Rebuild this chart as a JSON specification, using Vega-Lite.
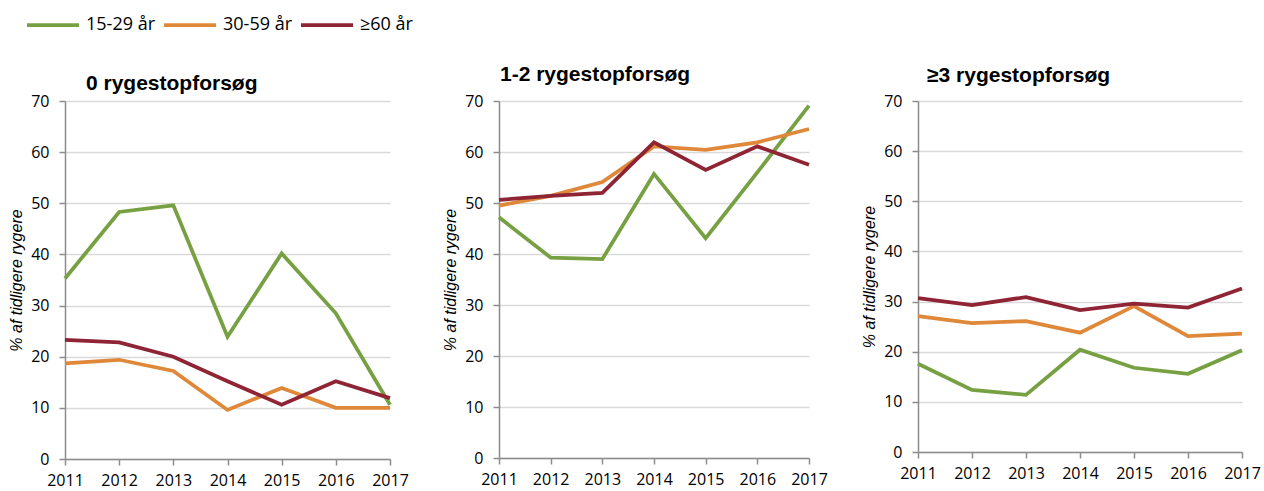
{
  "$schema": "https://vega.github.io/schema/vega-lite/v6.json",
  "padding": {"top": -3, "left": 8, "right": 0, "bottom": 5},
  "bounds": "flush",
  "spacing": 109,
  "config": {
    "font": "Open Sans",
    "view": {"stroke": null},
    "axis": {
      "labelFont": "Open Sans",
      "labelFontSize": 16,
      "labelColor": "#000000",
      "domainColor": "#8C8C8C",
      "domainWidth": 1.5,
      "tickColor": "#8C8C8C",
      "tickWidth": 1.5,
      "tickSize": 6,
      "gridColor": "#D9D9D9",
      "gridWidth": 1.5,
      "titleFont": "Liberation Sans",
      "titleFontStyle": "italic",
      "titleFontWeight": "normal",
      "titleFontSize": 16,
      "titleColor": "#000000"
    },
    "title": {
      "font": "Liberation Sans",
      "fontSize": 21,
      "fontWeight": "bold",
      "anchor": "start",
      "color": "#000000",
      "frame": "group",
      "baseline": "alphabetic"
    },
    "legend": {
      "orient": "none",
      "legendX": -40,
      "legendY": -104,
      "direction": "horizontal",
      "symbolType": "stroke",
      "symbolSize": 2704,
      "symbolStrokeWidth": 4,
      "labelFont": "Open Sans",
      "labelFontSize": 18,
      "labelColor": "#000000",
      "labelOffset": 5,
      "columnPadding": 1,
      "title": null
    },
    "line": {"strokeWidth": 3.75}
  },
  "data": {
    "values": [
      {"panel": "0", "group": "15-29 år", "year": 2011, "value": 35.3},
      {"panel": "0", "group": "15-29 år", "year": 2012, "value": 48.3},
      {"panel": "0", "group": "15-29 år", "year": 2013, "value": 49.6},
      {"panel": "0", "group": "15-29 år", "year": 2014, "value": 23.9},
      {"panel": "0", "group": "15-29 år", "year": 2015, "value": 40.2},
      {"panel": "0", "group": "15-29 år", "year": 2016, "value": 28.5},
      {"panel": "0", "group": "15-29 år", "year": 2017, "value": 10.6},
      {"panel": "0", "group": "30-59 år", "year": 2011, "value": 18.7},
      {"panel": "0", "group": "30-59 år", "year": 2012, "value": 19.4},
      {"panel": "0", "group": "30-59 år", "year": 2013, "value": 17.2},
      {"panel": "0", "group": "30-59 år", "year": 2014, "value": 9.6},
      {"panel": "0", "group": "30-59 år", "year": 2015, "value": 13.9},
      {"panel": "0", "group": "30-59 år", "year": 2016, "value": 10.0},
      {"panel": "0", "group": "30-59 år", "year": 2017, "value": 10.0},
      {"panel": "0", "group": "≥60 år", "year": 2011, "value": 23.3},
      {"panel": "0", "group": "≥60 år", "year": 2012, "value": 22.8},
      {"panel": "0", "group": "≥60 år", "year": 2013, "value": 20.0},
      {"panel": "0", "group": "≥60 år", "year": 2014, "value": 15.2},
      {"panel": "0", "group": "≥60 år", "year": 2015, "value": 10.6},
      {"panel": "0", "group": "≥60 år", "year": 2016, "value": 15.2},
      {"panel": "0", "group": "≥60 år", "year": 2017, "value": 11.9},
      {"panel": "1-2", "group": "15-29 år", "year": 2011, "value": 47.2},
      {"panel": "1-2", "group": "15-29 år", "year": 2012, "value": 39.3},
      {"panel": "1-2", "group": "15-29 år", "year": 2013, "value": 39.0},
      {"panel": "1-2", "group": "15-29 år", "year": 2014, "value": 55.7},
      {"panel": "1-2", "group": "15-29 år", "year": 2015, "value": 43.1},
      {"panel": "1-2", "group": "15-29 år", "year": 2016, "value": 56.0},
      {"panel": "1-2", "group": "15-29 år", "year": 2017, "value": 69.1},
      {"panel": "1-2", "group": "30-59 år", "year": 2011, "value": 49.5},
      {"panel": "1-2", "group": "30-59 år", "year": 2012, "value": 51.4},
      {"panel": "1-2", "group": "30-59 år", "year": 2013, "value": 54.1},
      {"panel": "1-2", "group": "30-59 år", "year": 2014, "value": 61.1},
      {"panel": "1-2", "group": "30-59 år", "year": 2015, "value": 60.4},
      {"panel": "1-2", "group": "30-59 år", "year": 2016, "value": 61.9},
      {"panel": "1-2", "group": "30-59 år", "year": 2017, "value": 64.5},
      {"panel": "1-2", "group": "≥60 år", "year": 2011, "value": 50.6},
      {"panel": "1-2", "group": "≥60 år", "year": 2012, "value": 51.4},
      {"panel": "1-2", "group": "≥60 år", "year": 2013, "value": 52.0},
      {"panel": "1-2", "group": "≥60 år", "year": 2014, "value": 61.9},
      {"panel": "1-2", "group": "≥60 år", "year": 2015, "value": 56.5},
      {"panel": "1-2", "group": "≥60 år", "year": 2016, "value": 61.1},
      {"panel": "1-2", "group": "≥60 år", "year": 2017, "value": 57.5},
      {"panel": "3", "group": "15-29 år", "year": 2011, "value": 17.6},
      {"panel": "3", "group": "15-29 år", "year": 2012, "value": 12.4},
      {"panel": "3", "group": "15-29 år", "year": 2013, "value": 11.4},
      {"panel": "3", "group": "15-29 år", "year": 2014, "value": 20.4},
      {"panel": "3", "group": "15-29 år", "year": 2015, "value": 16.8},
      {"panel": "3", "group": "15-29 år", "year": 2016, "value": 15.6},
      {"panel": "3", "group": "15-29 år", "year": 2017, "value": 20.3},
      {"panel": "3", "group": "30-59 år", "year": 2011, "value": 27.1},
      {"panel": "3", "group": "30-59 år", "year": 2012, "value": 25.7},
      {"panel": "3", "group": "30-59 år", "year": 2013, "value": 26.1},
      {"panel": "3", "group": "30-59 år", "year": 2014, "value": 23.8},
      {"panel": "3", "group": "30-59 år", "year": 2015, "value": 29.1},
      {"panel": "3", "group": "30-59 år", "year": 2016, "value": 23.1},
      {"panel": "3", "group": "30-59 år", "year": 2017, "value": 23.6},
      {"panel": "3", "group": "≥60 år", "year": 2011, "value": 30.7},
      {"panel": "3", "group": "≥60 år", "year": 2012, "value": 29.3},
      {"panel": "3", "group": "≥60 år", "year": 2013, "value": 30.9},
      {"panel": "3", "group": "≥60 år", "year": 2014, "value": 28.3},
      {"panel": "3", "group": "≥60 år", "year": 2015, "value": 29.6},
      {"panel": "3", "group": "≥60 år", "year": 2016, "value": 28.8},
      {"panel": "3", "group": "≥60 år", "year": 2017, "value": 32.6}
    ]
  },
  "hconcat": [
    {
      "width": 325,
      "height": 358,
      "title": {"text": "0 rygestopforsøg", "dx": 21, "offset": -1},
      "transform": [{"filter": "datum.panel == '0'"}],
      "mark": {"type": "line", "strokeWidth": 3.75},
      "encoding": {
        "x": {"field": "year", "type": "quantitative", "scale": {"domain": [2011, 2017], "nice": false, "zero": false},
              "axis": {"values": [2011, 2012, 2013, 2014, 2015, 2016, 2017], "format": "d", "grid": false, "title": null, "labelFlush": false, "labelPadding": 7}},
        "y": {"field": "value", "type": "quantitative", "scale": {"domain": [0, 70], "nice": false},
              "axis": {"values": [0, 10, 20, 30, 40, 50, 60, 70], "title": "% af tidligere rygere", "labelPadding": 10, "titlePadding": 6}},
        "color": {"field": "group", "type": "nominal", "scale": {"domain": ["15-29 år", "30-59 år", "≥60 år"], "range": ["#77A043", "#E0883A", "#8E2434"]}}
      }
    },
    {
      "width": 310,
      "height": 357,
      "title": {"text": "1-2 rygestopforsøg", "dx": 1, "offset": 8},
      "transform": [{"filter": "datum.panel == '1-2'"}],
      "mark": {"type": "line", "strokeWidth": 3.75},
      "encoding": {
        "x": {"field": "year", "type": "quantitative", "scale": {"domain": [2011, 2017], "nice": false, "zero": false},
              "axis": {"values": [2011, 2012, 2013, 2014, 2015, 2016, 2017], "format": "d", "grid": false, "title": null, "labelFlush": false, "labelPadding": 7}},
        "y": {"field": "value", "type": "quantitative", "scale": {"domain": [0, 70], "nice": false},
              "axis": {"values": [0, 10, 20, 30, 40, 50, 60, 70], "title": "% af tidligere rygere", "labelPadding": 10, "titlePadding": 6}},
        "color": {"field": "group", "type": "nominal", "scale": {"domain": ["15-29 år", "30-59 år", "≥60 år"], "range": ["#77A043", "#E0883A", "#8E2434"]}}
      }
    },
    {
      "width": 324,
      "height": 351,
      "title": {"text": "≥3 rygestopforsøg", "dx": 9, "offset": 7},
      "transform": [{"filter": "datum.panel == '3'"}],
      "mark": {"type": "line", "strokeWidth": 3.75},
      "encoding": {
        "x": {"field": "year", "type": "quantitative", "scale": {"domain": [2011, 2017], "nice": false, "zero": false},
              "axis": {"values": [2011, 2012, 2013, 2014, 2015, 2016, 2017], "format": "d", "grid": false, "title": null, "labelFlush": false, "labelPadding": 7}},
        "y": {"field": "value", "type": "quantitative", "scale": {"domain": [0, 70], "nice": false},
              "axis": {"values": [0, 10, 20, 30, 40, 50, 60, 70], "title": "% af tidligere rygere", "labelPadding": 10, "titlePadding": 6}},
        "color": {"field": "group", "type": "nominal", "scale": {"domain": ["15-29 år", "30-59 år", "≥60 år"], "range": ["#77A043", "#E0883A", "#8E2434"]}}
      }
    }
  ]
}
